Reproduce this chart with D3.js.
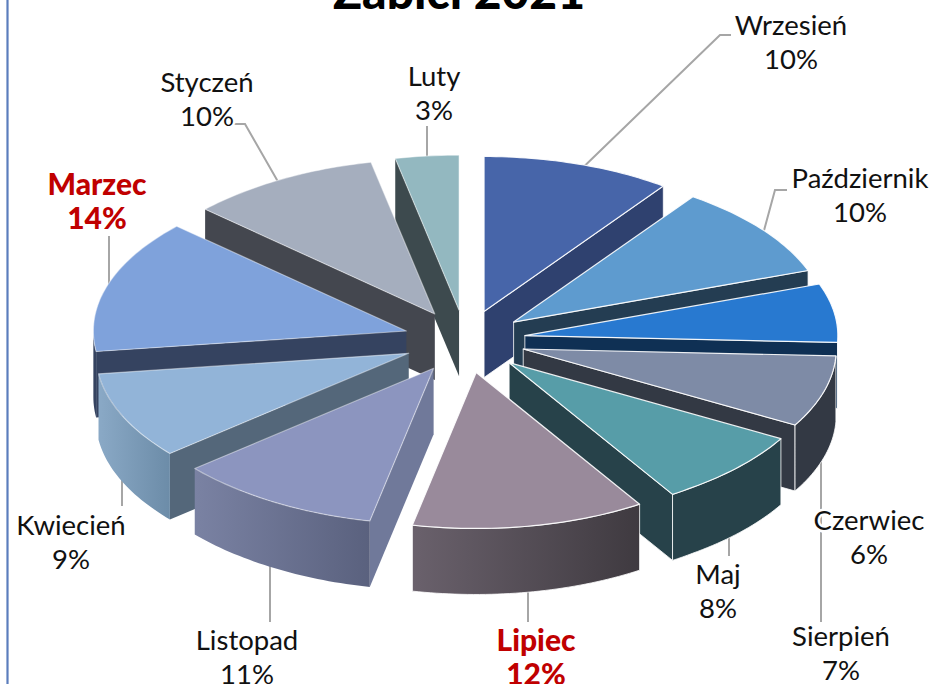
<!DOCTYPE html>
<html lang="pl"><head><meta charset="utf-8">
<script src="https://cdn.jsdelivr.net/npm/d3@7/dist/d3.min.js"></script>
<style>html,body{margin:0;padding:0;background:#fff}svg{display:block}text{font-family:Lato,"Open Sans",sans-serif}</style>
</head><body><svg id="c" width="933" height="684"></svg>
<script>
const months = ["Wrzesień","Październik","Czerwiec","Sierpień","Maj","Lipiec","Listopad","Kwiecień","Marzec","Styczeń","Luty"];
const shares = [10,9.6,6.1,7.4,7.9,12.3,10.6,9,13.9,9.9,3.3];
const highlighted = ["Marzec","Lipiec"];
const topColors = ["#4765A9","#5E9BCF","#2879D0","#7E8BA6","#579DA8","#998A9B","#8C95BF","#92B4D8","#7FA2DB","#A5AEBE","#93B8C0"];
const sideColors = ["#2F416F","#243D52","#0F3054","#333944","#27424A","#4E4850","#70799A","#54677A","#354360","#44474F","#3D4A4E"];
const wallLeft = ["#2F416F","#243D52","#0F3054","#333944","#27424A","#6A616C","#7A82A3","#8AA9C6","#354360","#44474F","#3D4A4E"];
const wallRight = ["#2F416F","#243D52","#0F3054","#333944","#27424A","#3F3A40","#5A617E","#6C8CA8","#354360","#44474F","#3D4A4E"];
// label layout: centre x, first-line centre y; leader bends
const labelAt = [[791,25],[860,178],[869,520],[841,636],[718,574],[536,640],[247,640],[71,525],[97,184],[207,82],[434,76]];
const leaderVia = [[[720,35],[731,35]],[[775,190],[787,190]],null,[[821,622]],[[729,556]],[[528,622]],[[270,622]],[[122,506]],[[109,236]],[[245,124],[233,124]],[[427,126]]];

const W=933,H=684, cx=465.5, cy=340, depth=66, lineGap=34;
const svg=d3.select("#c");
const defs=svg.append("defs");
svg.append("rect").attr("width",W).attr("height",H).attr("fill","#fff");
svg.append("line").attr("x1",7.5).attr("x2",7.5).attr("y1",0).attr("y2",H).attr("stroke","#5B7DBD").attr("stroke-width",2.2);
svg.append("text").attr("x",459).attr("y",9).attr("text-anchor","middle").attr("font-size",48).attr("font-weight",900).attr("fill","#000").text("Zabici 2021");

const arcs=d3.pie().sort(null).value(d=>d)(shares).map((a,i)=>({...a,i,mid:(a.startAngle+a.endAngle)/2}));
// slightly perspective projection: the near half of the disc is drawn larger
const scX=d3.scaleLinear().domain([-1,-0.6,0,0.6,1]).range([-313,-186,0,183,313]);
const scY=d3.scaleLinear().domain([-1,0,1]).range([-155,0,156]);
const exX=d3.scaleLinear().domain([-1,0,1]).range([-62,0,60]);
const exY=d3.scaleLinear().domain([-1,0,1]).range([-30,0,33]);
const apex=a=>[cx+exX(Math.sin(a.mid)),cy+exY(-Math.cos(a.mid))];
const rim=(a,t,dz=0)=>{const p=apex(a);return [p[0]+scX(Math.sin(t)),p[1]+scY(-Math.cos(t))+dz];};
const line=d3.line();
const sweep=(t0,t1)=>{const n=Math.max(2,Math.ceil((t1-t0)/0.02));return d3.range(n+1).map(k=>t0+(t1-t0)*k/n);};

const lead=svg.append("g");
const pies=svg.append("g");
const lab=svg.append("g");
arcs.forEach(a=>{
  const via=leaderVia[a.i];
  if(!via)return;
  const front=a.mid>Math.PI/2&&a.mid<3*Math.PI/2;
  const s=rim(a,a.mid,front?depth-8:8);
  if(via.length===1) s[0]=via[0][0];
  lead.append("path").attr("d",line([s,...via])).attr("fill","none").attr("stroke","#A6A6A6").attr("stroke-width",2);
});
const order=arcs.slice().sort((p,q)=>{
  const f=a=>Math.min(a.mid,2*Math.PI-a.mid);return f(p)-f(q);});
order.forEach(a=>{
  const g=pies.append("g");
  const p=apex(a), i=a.i, lit=i<6;
  const id="w"+i;
  const gr=defs.append("linearGradient").attr("id",id);
  gr.append("stop").attr("offset",0).attr("stop-color",wallLeft[i]);
  gr.append("stop").attr("offset",1).attr("stop-color",wallRight[i]);
  const lo=Math.max(a.startAngle,Math.PI/2), hi=Math.min(a.endAngle,3*Math.PI/2);
  const edge=lit?"#fff":"none";
  const radial=t=>{const r=rim(a,t);g.append("path")
      .attr("d",line([p,r,[r[0],r[1]+depth],[p[0],p[1]+depth]])+"Z")
      .attr("fill",sideColors[i]).attr("stroke",edge).attr("stroke-width",1).attr("stroke-opacity",.8);};
  if(a.endAngle<Math.PI) radial(a.endAngle);
  if(a.startAngle>Math.PI) radial(a.startAngle);
  if(hi>lo){
    const ts=sweep(lo,hi);
    const pts=ts.map(t=>rim(a,t)).concat(ts.slice().reverse().map(t=>rim(a,t,depth)));
    g.append("path").attr("d",line(pts)+"Z").attr("fill",`url(#${id})`).attr("stroke",edge).attr("stroke-width",1).attr("stroke-opacity",.8);
  }
  const topPts=[p,...sweep(a.startAngle,a.endAngle).map(t=>rim(a,t))];
  g.append("path").attr("d",line(topPts)+"Z").attr("fill",topColors[i]).attr("stroke","#fff").attr("stroke-width",1.2).attr("stroke-opacity",lit?.9:.45).attr("stroke-linejoin","round");
});
arcs.forEach(a=>{
  const hot=highlighted.includes(months[a.i]);
  const [x,y]=labelAt[a.i];
  [months[a.i],d3.format(".0f")(shares[a.i])+"%"].forEach((s,k)=>{
    lab.append("text").attr("x",x).attr("y",y+k*lineGap).attr("dy","0.36em").attr("text-anchor","middle")
      .attr("font-size",hot?30:27.5).attr("font-weight",hot?900:400).attr("fill",hot?"#C00000":"#111")
      .attr("stroke","#fff").attr("stroke-width",hot?0:5).attr("paint-order","stroke").text(s);
  });
});
</script></body></html>
